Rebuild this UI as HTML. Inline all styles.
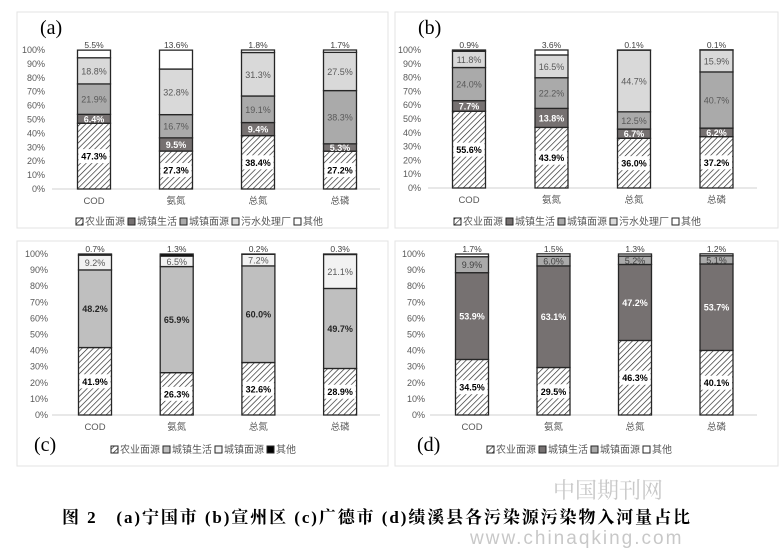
<!DOCTYPE html>
<html><head><meta charset="utf-8">
<style>
body{margin:0;background:#fff;}
svg text{font-family:"Liberation Sans","Noto Sans CJK SC",sans-serif;}
svg text.serif{font-family:"Liberation Serif","Noto Serif CJK SC",serif;}
</style></head>
<body>
<svg id="chart" width="783" height="549" viewBox="0 0 783 549" xmlns="http://www.w3.org/2000/svg">
<defs>
<pattern id="hatch" patternUnits="userSpaceOnUse" width="4" height="4" patternTransform="rotate(45)">
<rect width="4" height="4" fill="#fff"/><line x1="0" y1="0" x2="0" y2="4" stroke="#222" stroke-width="1.3"/>
</pattern>
</defs>
</svg>
<script>
const categories = ["COD","氨氮","总氮","总磷"];
const yTicks = [0,10,20,30,40,50,60,70,80,90,100];
// (a) 宁国市
const aAgri  = [47.3,27.3,38.4,27.2];
const aLife  = [6.4,9.5,9.4,5.3];
const aSurf  = [21.9,16.7,19.1,38.3];
const aPlant = [18.8,32.8,31.3,27.5];
const aOther = [5.5,13.6,1.8,1.7];
// (b) 宣州区
const bAgri  = [55.6,43.9,36.0,37.2];
const bLife  = [7.7,13.8,6.7,6.2];
const bSurf  = [24.0,22.2,12.5,40.7];
const bPlant = [11.8,16.5,44.7,15.9];
const bOther = [0.9,3.6,0.1,0.1];
// (c) 广德市
const cAgri  = [41.9,26.3,32.6,28.9];
const cLife  = [48.2,65.9,60.0,49.7];
const cSurf  = [9.2,6.5,7.2,21.1];
const cOther = [0.7,1.3,0.2,0.3];
// (d) 绩溪县
const dAgri  = [34.5,29.5,46.3,40.1];
const dLife  = [53.9,63.1,47.2,53.7];
const dSurf  = [9.9,6.0,5.2,5.1];
const dOther = [1.7,1.5,1.3,1.2];

const NS="http://www.w3.org/2000/svg";
const svg=document.getElementById('chart');
function mk(tag,attrs,parent,text){const e=document.createElementNS(NS,tag);for(const k in attrs)e.setAttribute(k,attrs[k]);if(text!==undefined)e.textContent=text;(parent||svg).appendChild(e);return e;}

function drawPanel(p){
  const g=mk('g',{});
  
  
  const fr=mk('rect',{x:p.box[0],y:p.box[1],width:p.box[2],height:p.box[3],fill:'#fff',stroke:'#e3e3e3','stroke-width':1},g);
  
  
  const yS=v=>p.y0-(p.y0-p.y100)*v/100;
  const xS=i=>p.cx0+i*p.step;
  yTicks.forEach(t=>{
    const tx=mk('text',{x:p.tickX,y:yS(t)+3,'text-anchor':'end','font-size':9,fill:'#595959'},g,t+'%');
    
    
  });
  const ax=mk('line',{x1:p.axX0,x2:p.axX1,y1:p.y0,y2:p.y0,stroke:'#d0d0d0','stroke-width':1},g);
  
  
  categories.forEach((c,i)=>{
    const tx=mk('text',{x:xS(i),y:p.y0+15,'text-anchor':'middle','font-size':9.5,fill:'#595959'},g,c);
    
    
  });
  const bw=33;
  categories.forEach((c,i)=>{
    let acc=0;
    p.series.forEach((s,si)=>{
      const v=s.data[i];
      const yTop=yS(acc+v), yBot=yS(acc);
      const r=mk('rect',{x:xS(i)-bw/2,y:yTop,width:bw,height:Math.max(yBot-yTop,0),fill:s.fill,stroke:'#262626','stroke-width':1.3},g);
      
      
      const mid=(yTop+yBot)/2;
      const lbl=v.toFixed(1)+'%';
      if(si===p.series.length-1){
        const t=mk('text',{x:xS(i),y:yTop-2,'text-anchor':'middle','font-size':8.5,fill:'#404040'},g,lbl);
        
        
      } else if(s.key==='agri'){
        const br=mk('rect',{x:xS(i)-bw/2+1,y:mid-7,width:bw-2,height:14,fill:'#fff'},g);
        
        
        const t=mk('text',{x:xS(i),y:mid+3.5,'text-anchor':'middle','font-size':9,'font-weight':'bold',fill:'#000'},g,lbl);
        
        
      } else {
        const t=mk('text',{x:xS(i),y:mid+3.5,'text-anchor':'middle','font-size':9,'font-weight':s.bold?'bold':'normal',fill:s.tc},g,lbl);
        
        
      }
      acc+=v;
    });
  });
  let lx=p.legX;
  p.series.forEach(s=>{
    const sw=mk('rect',{x:lx,y:p.legY-7,width:7,height:7,fill:s.fill,stroke:'#262626','stroke-width':1},g);
    
    
    const t=mk('text',{x:lx+9,y:p.legY,'font-size':10,fill:'#595959'},g,s.name);
    
    
    lx+=9+s.name.length*10+3;
  });
  const pl=mk('text',{x:p.tag[0],y:p.tag[1],'font-size':20,fill:'#000','class':'serif'},g,p.tagText);
  
  
}

const gray1='#767171', gray2='#aaaaaa', gray3='#d9d9d9';
drawPanel({id:'a',box:[17,12,371,216],y0:189,y100:50,cx0:94,step:82,tickX:45,axX0:52,axX1:380,legX:76,legY:225,tag:[40,34],tagText:'(a)',
  series:[{key:'agri',name:'农业面源',data:aAgri,fill:'url(#hatch)'},
          {key:'life',name:'城镇生活',data:aLife,fill:gray1,tc:'#fff',bold:true},
          {key:'surf',name:'城镇面源',data:aSurf,fill:gray2,tc:'#595959'},
          {key:'plant',name:'污水处理厂',data:aPlant,fill:gray3,tc:'#595959'},
          {key:'other',name:'其他',data:aOther,fill:'#fff'}]});
drawPanel({id:'b',box:[395,12,383,216],y0:188,y100:50,cx0:469,step:82.5,tickX:421,axX0:428,axX1:757,legX:454,legY:225,tag:[418,34],tagText:'(b)',
  series:[{key:'agri',name:'农业面源',data:bAgri,fill:'url(#hatch)'},
          {key:'life',name:'城镇生活',data:bLife,fill:gray1,tc:'#fff',bold:true},
          {key:'surf',name:'城镇面源',data:bSurf,fill:gray2,tc:'#595959'},
          {key:'plant',name:'污水处理厂',data:bPlant,fill:gray3,tc:'#595959'},
          {key:'other',name:'其他',data:bOther,fill:'#fff'}]});
drawPanel({id:'c',box:[17,241,371,225],y0:415,y100:254,cx0:95,step:81.7,tickX:48,axX0:52,axX1:380,legX:111,legY:453,tag:[34,451],tagText:'(c)',
  series:[{key:'agri',name:'农业面源',data:cAgri,fill:'url(#hatch)'},
          {key:'life',name:'城镇生活',data:cLife,fill:'#bfbfbf',tc:'#262626',bold:true},
          {key:'surf',name:'城镇面源',data:cSurf,fill:'#f2f2f2',tc:'#595959'},
          {key:'other',name:'其他',data:cOther,fill:'#000'}]});
drawPanel({id:'d',box:[395,241,383,225],y0:415,y100:254,cx0:472,step:81.5,tickX:425,axX0:430,axX1:757,legX:487,legY:453,tag:[417,451],tagText:'(d)',
  series:[{key:'agri',name:'农业面源',data:dAgri,fill:'url(#hatch)'},
          {key:'life',name:'城镇生活',data:dLife,fill:gray1,tc:'#fff',bold:true},
          {key:'surf',name:'城镇面源',data:dSurf,fill:gray2,tc:'#404040'},
          {key:'other',name:'其他',data:dOther,fill:'#fff'}]});

const wm=mk('text',{x:553,y:498,'font-size':22,fill:'#c8c8c8','class':'serif'},svg,'中国期刊网');


const cap=mk('text',{x:62,y:523,'font-size':17,'font-weight':'bold',fill:'#000','class':'serif',textLength:628,lengthAdjust:'spacing'},svg,'图 2　(a)宁国市  (b)宣州区  (c)广德市  (d)绩溪县各污染源污染物入河量占比');


const url=mk('text',{x:470,y:544,'font-size':19,fill:'#c8c8c8','letter-spacing':'2'},svg,'www.chinaqking.com');


</script>
</body></html>
